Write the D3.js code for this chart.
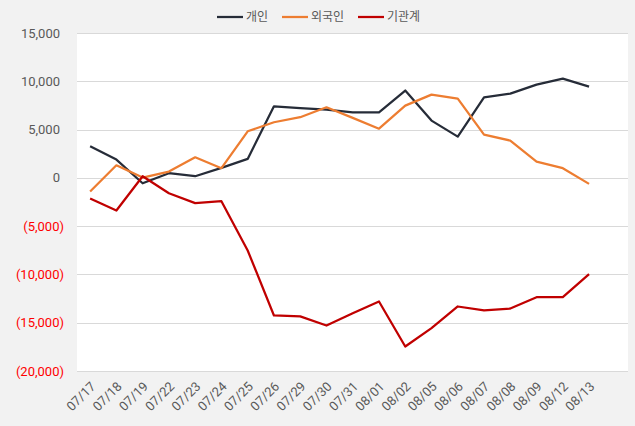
<!DOCTYPE html>
<html>
<head>
<meta charset="utf-8">
<script src="https://cdn.jsdelivr.net/npm/d3@7"></script>
<style>
  body { margin: 0; background: #f2f2f2; }
  text { font-family: Roboto, "Noto Sans CJK KR", sans-serif; }
</style>
</head>
<body>
<div id="chart"></div>
<script>
var svgWidth = 635;
var svgHeight = 426;

// data
var dates = ["07/17", "07/18", "07/19", "07/22", "07/23", "07/24", "07/25", "07/26", "07/29", "07/30",
    "07/31", "08/01", "08/02", "08/05", "08/06", "08/07", "08/08", "08/09", "08/12", "08/13"];
var individual = [3270, 1890, -560, 480, 170, 1030, 1960, 7410, 7210, 7070,
    6790, 6780, 9040, 5930, 4270, 8340, 8720, 9660, 10280, 9450];
var foreign = [-1420, 1300, 30, 650, 2130, 1000, 4820, 5760, 6280, 7310,
    6210, 5090, 7480, 8620, 8210, 4480, 3860, 1690, 1000, -620];
var institution = [-2140, -3380, 170, -1590, -2620, -2420, -7520, -14250, -14350, -15290,
    -14010, -12800, -17460, -15560, -13320, -13730, -13530, -12360, -12360, -9970];
var seriesNames = ["개인", "외국인", "기관계"];
var yTicks = [15000, 10000, 5000, 0, -5000, -10000, -15000, -20000];

var colors = ["#262c38", "#ed7d31", "#c00000"];

var plot = { left: 77, right: 628, top: 33, bottom: 371 };

var svg = d3.select("#chart")
    .append("svg")
    .attr("width", svgWidth)
    .attr("height", svgHeight);

svg.append("rect")
    .attr("width", svgWidth)
    .attr("height", svgHeight)
    .attr("fill", "#f2f2f2");

svg.append("rect")
    .attr("x", plot.left)
    .attr("y", plot.top)
    .attr("width", plot.right - plot.left)
    .attr("height", plot.bottom - plot.top)
    .attr("fill", "#ffffff");

var x = d3.scaleBand()
    .domain(dates)
    .range([plot.left, plot.left + 26.26 * dates.length]);

var y = d3.scaleLinear()
    .domain([-20000, 15000])
    .range([plot.bottom, plot.top]);

// gridlines
svg.append("g")
    .selectAll("line")
    .data(yTicks)
    .enter()
    .append("line")
    .attr("x1", plot.left)
    .attr("x2", plot.right)
    .attr("y1", d => Math.round(y(d)) + 0.5)
    .attr("y2", d => Math.round(y(d)) + 0.5)
    .attr("stroke", "#d9d9d9")
    .attr("stroke-width", 1);

// y labels
var fmt = d3.format(",");
svg.append("g")
    .selectAll("text")
    .data(yTicks)
    .enter()
    .append("text")
    .attr("x", d => d < 0 ? 64 : 60)
    .attr("y", d => y(d))
    .attr("dy", "0.35em")
    .attr("text-anchor", "end")
    .attr("font-size", 13)
    .attr("fill", d => d < 0 ? "#ff0000" : "#595959")
    .text(d => d < 0 ? "(" + fmt(-d) + ")" : fmt(d));

// x labels
svg.append("g")
    .selectAll("text")
    .data(dates)
    .enter()
    .append("text")
    .attr("transform", d => `translate(${x(d) + x.bandwidth() / 2 + 3}, ${plot.bottom + 13}) rotate(-45)`)
    .attr("text-anchor", "end")
    .attr("dy", "0.35em")
    .attr("font-size", 13)
    .attr("fill", "#595959")
    .text(d => d);

// lines
var allSeries = [individual, foreign, institution];
var line = d3.line()
    .x((d, i) => x(dates[i]) + x.bandwidth() / 2)
    .y(d => y(d));

svg.append("g")
    .selectAll("path")
    .data(allSeries)
    .enter()
    .append("path")
    .attr("d", d => line(d))
    .attr("fill", "none")
    .attr("stroke", (d, i) => colors[i])
    .attr("stroke-width", 2.25)
    .attr("stroke-linejoin", "round");

// legend
var legendX = [217, 282, 358];
var legend = svg.append("g")
    .selectAll("g")
    .data(seriesNames)
    .enter()
    .append("g")
    .attr("transform", (d, i) => `translate(${legendX[i]}, 17)`);

legend.append("line")
    .attr("x1", 0)
    .attr("x2", 26)
    .attr("y1", 0)
    .attr("y2", 0)
    .attr("stroke", (d, i) => colors[i])
    .attr("stroke-width", 2.25);

legend.append("text")
    .attr("x", 29)
    .attr("dy", "0.35em")
    .attr("font-size", 12)
    .attr("font-family", "'Noto Sans CJK KR', sans-serif")
    .attr("fill", "#595959")
    .text(d => d);
</script>
</body>
</html>
